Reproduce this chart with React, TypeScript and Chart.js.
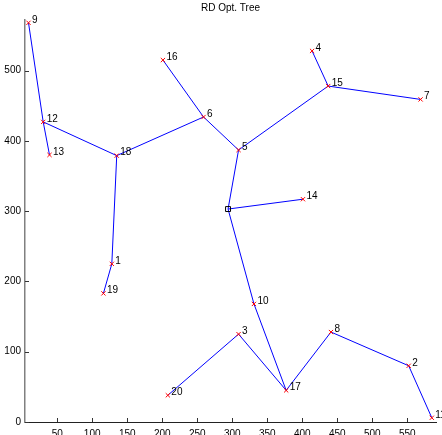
import React, { useEffect, useRef } from "react";
import { Chart, registerables } from "chart.js";

Chart.register(...registerables);

// Node data (id, x, y)
const nodeIds = [1, 2, 3, 4, 5, 6, 7, 8, 9, 10, 11, 12, 13, 14, 15, 16, 17, 18, 19, 20];
const nodeX = [128, 552, 309, 414, 309, 259, 569, 441, 9, 331, 585, 30, 39, 401, 437, 201, 377, 135, 116, 208];
const nodeY = [225, 80, 125, 528, 387, 434, 459, 128, 568, 168, 6, 427, 380, 317, 478, 515, 45, 379, 183, 38];

// Root (square marker), id 0
const rootX = 294;
const rootY = 303;

// Tree edges (0 = root)
const edgeFrom = [9, 12, 12, 18, 16, 6, 5, 15, 15, 5, 0, 18, 1, 0, 10, 17, 3, 17, 8, 2];
const edgeTo = [12, 13, 18, 6, 6, 5, 15, 4, 7, 0, 14, 1, 19, 10, 17, 3, 20, 8, 2, 11];

const xTicks = [50, 100, 150, 200, 250, 300, 350, 400, 450, 500, 550];
const yTicks = [0, 100, 200, 300, 400, 500];

const titleText = "RD Opt. Tree";
const FONT = "'Liberation Sans', Arial, sans-serif";

function pos(id: number) {
  if (id === 0) return { x: rootX, y: rootY };
  const i = nodeIds.indexOf(id);
  return { x: nodeX[i], y: nodeY[i] };
}

export default function App() {
  const ref = useRef<HTMLCanvasElement | null>(null);

  useEffect(() => {
    document.body.style.margin = "0";
    const canvas = ref.current;
    if (!canvas) return;

    const nodePoints = nodeIds.map((_, i) => ({ x: nodeX[i], y: nodeY[i] }));
    const edgeSets = edgeFrom.map((f, i) => ({
      type: "scatter" as const,
      data: [pos(f), pos(edgeTo[i])],
      showLine: true,
      borderColor: "#0000ff",
      borderWidth: 1,
      pointRadius: 0,
      pointHoverRadius: 0,
      order: 3,
    }));

    const overlay = {
      id: "overlay",
      afterDraw(chart: any) {
        const ctx = chart.ctx;
        const xs = chart.scales.x;
        const ys = chart.scales.y;
        const area = chart.chartArea;
        ctx.save();
        // inward ticks
        ctx.strokeStyle = "#333333";
        ctx.lineWidth = 1;
        for (const v of xTicks) {
          const px = Math.round(xs.getPixelForValue(v)) + 0.5;
          ctx.beginPath();
          ctx.moveTo(px, area.bottom);
          ctx.lineTo(px, area.bottom - 4);
          ctx.stroke();
        }
        for (const v of yTicks) {
          const py = Math.round(ys.getPixelForValue(v)) + 0.5;
          ctx.beginPath();
          ctx.moveTo(area.left, py);
          ctx.lineTo(area.left + 4, py);
          ctx.stroke();
        }
        // node labels
        ctx.fillStyle = "#000000";
        ctx.font = "10px " + FONT;
        ctx.textAlign = "left";
        ctx.textBaseline = "middle";
        nodeIds.forEach((id, i) => {
          const px = xs.getPixelForValue(nodeX[i]);
          const py = ys.getPixelForValue(nodeY[i]);
          ctx.fillText(String(id), px + 3.5, py - 3);
        });
        // title
        ctx.textAlign = "center";
        ctx.font = "10px " + FONT;
        ctx.fillText(titleText, (area.left + area.right) / 2, 8);
        ctx.restore();
      },
    };

    const chart = new Chart(canvas, {
      type: "scatter",
      data: {
        datasets: [
          {
            data: nodePoints,
            pointStyle: "crossRot",
            pointRadius: 3,
            pointBorderColor: "#ff0000",
            pointBorderWidth: 1,
            borderColor: "#ff0000",
            showLine: false,
            order: 1,
          } as any,
          {
            data: [{ x: rootX, y: rootY }],
            pointStyle: "rect",
            pointRadius: 3.5,
            pointBorderColor: "#000000",
            pointBackgroundColor: "rgba(0,0,0,0)",
            pointBorderWidth: 1,
            showLine: false,
            order: 2,
          } as any,
          ...edgeSets,
        ],
      },
      options: {
        animation: false,
        responsive: false,
        events: [],
        layout: { padding: { top: 20, right: 6, left: 0, bottom: 0 } },
        plugins: {
          legend: { display: false },
          title: { display: false },
          tooltip: { enabled: false },
        },
        scales: {
          x: {
            type: "linear",
            min: 4,
            max: 591,
            grid: { display: false, drawTicks: false },
            border: { display: true, color: "#222222", width: 1 },
            afterBuildTicks: (s: any) => {
              s.ticks = xTicks.map((v) => ({ value: v }));
            },
            afterFit: (s: any) => {
              s.height = 13;
            },
            ticks: {
              padding: 6,
              color: "#000000",
              font: { family: FONT, size: 10 },
              maxRotation: 0,
              autoSkip: false,
            },
          },
          y: {
            type: "linear",
            min: 0,
            max: 572,
            grid: { display: false, drawTicks: false },
            border: { display: true, color: "#808080", width: 1.5 },
            afterBuildTicks: (s: any) => {
              s.ticks = yTicks.map((v) => ({ value: v }));
            },
            afterFit: (s: any) => {
              s.width = 25;
            },
            ticks: {
              padding: 4,
              color: "#000000",
              font: { family: FONT, size: 10 },
              autoSkip: false,
            },
          },
        },
      },
      plugins: [overlay],
    } as any);

    return () => chart.destroy();
  }, []);

  return (
    <div style={{ width: 442, height: 435 }}>
      <canvas ref={ref} width={442} height={435} style={{ display: "block" }} />
    </div>
  );
}
